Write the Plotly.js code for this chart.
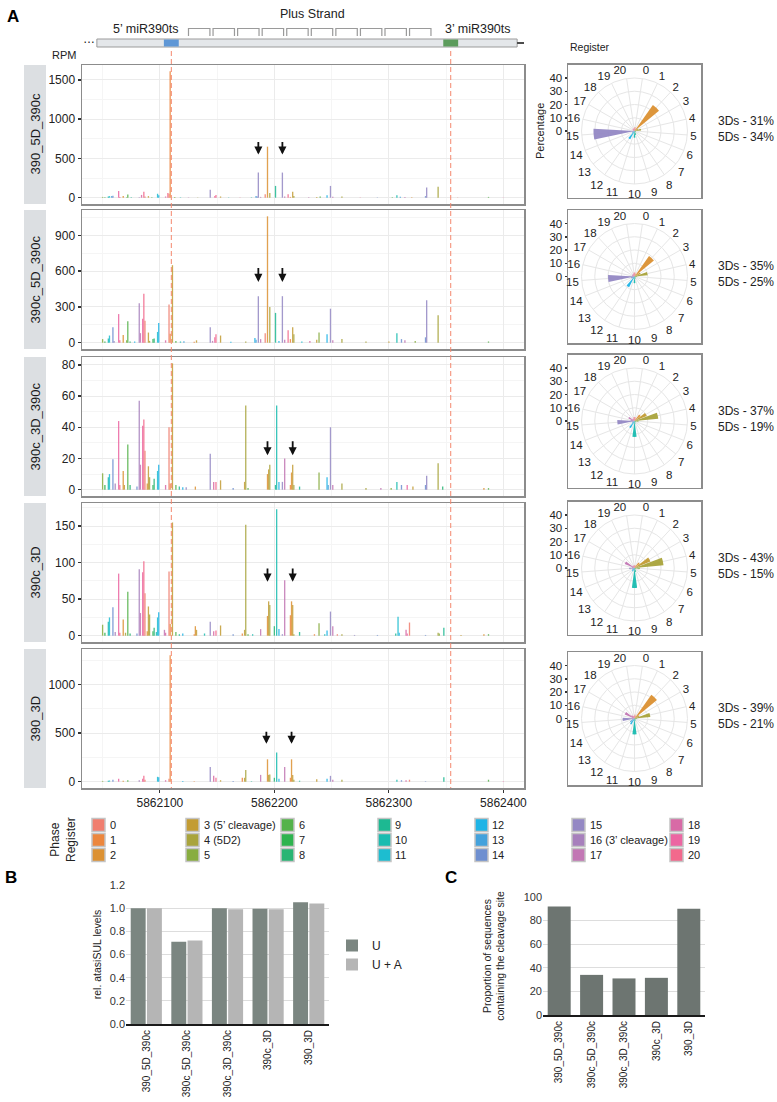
<!DOCTYPE html>
<html><head><meta charset="utf-8">
<script src="https://cdn.plot.ly/plotly-3.0.1.min.js"></script>
<style>html,body{margin:0;padding:0;background:#fff}#chart{width:777px;height:1102px}</style>
</head><body><div id="chart"></div>
<script>
// ---------------- DATA ----------------
const SAMPLES = ['390_5D_390c','390c_5D_390c','390c_3D_390c','390c_3D','390_3D'];
const REG_LABELS = ['0','1','2','3','4','5','6','7','8','9','10','11','12','13','14','15','16','17','18','19','20'];
const LEGEND_TEXT = ['0','1','2','3 (5\u2019 cleavage)','4 (5D2)','5','6','7','8','9','10','11','12','13','14','15','16 (3\u2019 cleavage)','17','18','19','20'];
const TS5 = 5862110, TS3 = 5862354;      // miR390 target sites
const PHASE0 = 5862108;                   // first nt of phase register 0
const GENE_START = 5862045, GENE_END = 5862412;

const POS_1 = [5862050,5862052,5862055,5862056,5862058,5862059,5862064,5862065,5862068,5862071,
5862072,5862075,5862082,5862084,5862086,5862087,5862090,5862093,5862098,5862099,
5862105,5862107,5862108,5862109,5862113,5862118,5862125,5862133,5862144,5862148,
5862149,5862153,5862160,5862170,5862180,5862184,5862185,5862186,5862188,5862192,
5862194,5862196,5862201,5862207,5862209,5862212,5862214,5862216,5862217,5862230,
5862237,5862240,5862246,5862249,5862251,5862259,5862275,5862290,5862303,5862307,
5862310,5862314,5862320,5862332,5862333,5862343,5862360,5862387,5862400];
const RPM_1 = [10,4,15,20,22,25,85,8,20,6,
40,5,6,35,75,15,20,6,50,30,
15,60,50,1610,8,5,4,3,100,20,
35,15,4,3,5,20,15,320,10,45,
650,60,150,320,15,45,10,75,20,5,
10,15,30,150,12,15,3,4,5,30,
12,8,5,20,130,140,3,10,3];

const POS_2 = [5862050,5862052,5862055,5862056,5862059,5862060,5862064,5862065,5862068,5862071,
5862072,5862074,5862078,5862082,5862083,5862085,5862086,5862087,5862090,5862091,
5862094,5862095,5862098,5862099,5862105,5862108,5862109,5862111,5862114,5862118,
5862121,5862130,5862132,5862144,5862146,5862148,5862149,5862153,5862162,5862175,
5862183,5862184,5862186,5862188,5862192,5862194,5862196,5862201,5862204,5862207,
5862209,5862212,5862214,5862216,5862217,5862224,5862231,5862237,5862239,5862246,
5862249,5862251,5862259,5862280,5862300,5862307,5862311,5862314,5862323,5862332,
5862333,5862343,5862387];
const RPM_2 = [30,10,35,60,130,15,240,20,65,20,
180,10,10,330,80,200,410,185,85,15,
30,35,90,165,20,320,75,650,15,10,
12,8,20,130,15,45,70,60,8,10,
40,25,390,30,80,1060,300,250,15,390,
25,105,30,130,70,10,15,25,85,70,
285,20,30,10,10,80,30,20,15,45,
355,230,10];

const POS_3 = [5862050,5862052,5862055,5862056,5862059,5862061,5862064,5862065,5862068,5862069,
5862072,5862074,5862080,5862082,5862083,5862085,5862086,5862087,5862089,5862090,
5862091,5862094,5862095,5862098,5862099,5862105,5862108,5862109,5862111,5862114,
5862117,5862120,5862123,5862131,5862144,5862147,5862149,5862153,5862164,5862174,
5862175,5862177,5862194,5862195,5862196,5862201,5862202,5862204,5862207,5862209,
5862214,5862215,5862216,5862217,5862222,5862239,5862246,5862247,5862249,5862251,
5862259,5862280,5862293,5862302,5862307,5862311,5862316,5862321,5862332,5862333,
5862343,5862347,5862383,5862387];
const RPM_3 = [10.5,3,8,10,19.5,4,44,3,12,3,
29,3,2,57,16,41,45,25,4,15,
8,3,7,12,16,3,40,4,81,3,
2,1.5,1.5,2,23,5,5,6,1,5,
54,1,10,13,16,3,54,5,5,20,
3,11,16,3,2,11,8,3,40,3,
4,1,1,1,5,3,3,2,3,9,
17,2,1,1];

const POS_4 = [5862050,5862052,5862055,5862056,5862059,5862061,5862064,5862065,5862068,5862070,
5862072,5862074,5862080,5862082,5862083,5862085,5862086,5862087,5862089,5862090,
5862091,5862094,5862095,5862097,5862098,5862099,5862104,5862105,5862108,5862109,
5862111,5862114,5862117,5862120,5862130,5862131,5862132,5862139,5862144,5862147,
5862149,5862153,5862164,5862172,5862174,5862175,5862177,5862181,5862188,5862194,
5862195,5862196,5862200,5862202,5862204,5862207,5862209,5862214,5862215,5862216,
5862217,5862222,5862235,5862239,5862244,5862246,5862249,5862251,5862255,5862259,
5862270,5862290,5862306,5862308,5862309,5862315,5862316,5862318,5862332,5862343,
5862344,5862348,5862363,5862383,5862387];
const RPM_4 = [15,4,19,25,39,5,85,4,22,4,
60,3,3,91,31,87,102,58,6,40,
29,6,11,5,25,32,8,4,88,16,
155,5,2,3,2,13,8,3,19,6,
7,14,2,3,8,152,2,2,9,27,
47,42,13,173,9,2,76,28,47,42,
2,5,2,17,2,7,33,13,2,2,
1,1,3,26,4,8,3,18,1,4,
3,11,1,2,2];

const POS_5 = [5862050,5862055,5862056,5862059,5862064,5862068,5862072,5862082,5862085,5862086,
5862087,5862098,5862099,5862105,5862108,5862109,5862120,5862130,5862144,5862147,
5862149,5862153,5862164,5862172,5862174,5862175,5862180,5862188,5862194,5862195,
5862196,5862200,5862202,5862204,5862209,5862214,5862215,5862216,5862217,5862222,
5862237,5862246,5862249,5862251,5862259,5862307,5862311,5862315,5862318,5862332,
5862348,5862387,5862400];
const RPM_5 = [8,10,12,20,30,10,15,15,30,60,
20,50,45,15,30,1300,8,5,150,60,
40,15,6,40,40,120,5,70,230,70,
75,40,300,30,150,40,230,70,20,10,
25,30,60,20,20,20,15,15,20,5,
45,20,5];

// arrows marking cleavage products
const ARROW_X = [[5862186,5862207],[5862186,5862207],[5862194,5862216],[5862194,5862216],[5862193,5862215]];
const ARROW_TIP = [550, 510, 22, 74, 390];
const ARROW_TAIL = [730, 640, 32, 94, 530];

// register percentages (polar plots)
const PCT_1 = [3,2,24,3,5,1,1,1,1,3,5,2,7,2,2,31,1,1,2,2,2];
const PCT_2 = [3,2,19,5,10,2,1,1,1,2,5,2,9,2,3,20,2,2,2,2,3];
const PCT_3 = [3,2,6,10,18,3,1,1,1,2,12,2,6,2,2,13,3,5,2,2,3];
const PCT_4 = [2,2,5,13,22,4,1,1,1,3,15,2,3,2,2,4,2,8,2,2,2];
const PCT_5 = [3,2,22,4,12,2,1,1,1,2,12,2,5,4,2,9,2,8,3,2,2];
const PCT_3DS = ['31%','35%','37%','43%','39%'];
const PCT_5DS = ['34%','25%','19%','15%','21%'];

// panel B and C
const U_LEVELS  = [1.00, 0.71, 1.00, 0.995, 1.05];
const UA_LEVELS = [1.00, 0.72, 0.99, 0.99, 1.04];
const CLEAVAGE_PROP = [92, 34, 31, 31.5, 90];

// ---------------- STYLE / HELPERS ----------------
const W = 777, H = 1102;
const px = v => v / W, py = v => 1 - v / H;
const FONT = 'Liberation Sans, Arial, Helvetica, sans-serif';
const PAL = ['#F07E6F','#EC873E','#DC9132','#C39C34','#A9A43C','#88AD40','#55B34A','#2EB34F','#28B574','#1DB992',
             '#1ABCB0','#1DBDD0','#1EB4E6','#44A2DC','#6E8FD0','#9488C4','#A780BC','#C276B4','#D86AA6','#EC66A2','#F2698C'];
const regOf = p => (((p - PHASE0) % 21) + 21) % 21;

const ROWS = [
  {pos: POS_1, rpm: RPM_1, range: [-80.5, 1690.5], dtick: 500},
  {pos: POS_2, rpm: RPM_2, range: [-53, 1113], dtick: 300},
  {pos: POS_3, rpm: RPM_3, range: [-4.05, 85.05], dtick: 20},
  {pos: POS_4, rpm: RPM_4, range: [-8.65, 181.65], dtick: 50},
  {pos: POS_5, rpm: RPM_5, range: [-65, 1365], dtick: 500},
];
const PCTS = [PCT_1, PCT_2, PCT_3, PCT_4, PCT_5];
const ROW_TOP = [65, 210, 357, 503, 649], ROW_H = 139;
const POLAR_CY = [131, 276.5, 421, 568, 718.5];
const BAR_X0 = 82, BAR_X1 = 524;
const XRANGE = [5862032, 5862418];

const data = [];
const shapes = [];
const ann = [];
function txt(x, y, text, size, extra) {
  return Object.assign({xref: 'paper', yref: 'paper', x: px(x), y: py(y), text: text, showarrow: false,
    xanchor: 'center', yanchor: 'middle', font: {size: size, color: '#222'}}, extra || {});
}
const layout = {
  width: W, height: H, margin: {l: 0, r: 0, t: 0, b: 0},
  paper_bgcolor: '#ffffff', plot_bgcolor: 'rgba(0,0,0,0)',
  font: {family: FONT, color: '#222'},
  barmode: 'group', bargap: 0.2, bargroupgap: 0.08,
  showlegend: true,
  legend: {x: px(332), y: py(931), xanchor: 'left', yanchor: 'top', font: {size: 12, color: '#222'},
           bgcolor: 'rgba(0,0,0,0)', itemwidth: 30, tracegroupgap: 0}
};

// ---------------- PANEL A: bar rows ----------------
ROWS.forEach((row, i) => {
  const k = i === 0 ? '' : String(i + 1);
  const top = ROW_TOP[i], bot = top + ROW_H;
  data.push({
    type: 'bar', x: row.pos, y: row.rpm, width: 1.15,
    marker: {color: row.pos.map(p => PAL[regOf(p)]), line: {width: 0}},
    opacity: 0.85, xaxis: 'x' + k, yaxis: 'y' + k, showlegend: false, hoverinfo: 'skip'
  });
  layout['xaxis' + k] = {
    domain: [px(BAR_X0), px(BAR_X1)], anchor: 'y' + k, range: XRANGE,
    tick0: 5862000, dtick: 100, tickformat: 'd',
    showticklabels: i === 4, ticks: i === 4 ? 'outside' : '', ticklen: 3, tickcolor: '#333',
    tickfont: {size: 12, color: '#222'},
    showgrid: true, gridcolor: '#EBEBEB', gridwidth: 1,
    minor: {dtick: 50, tick0: 5862000, showgrid: true, gridcolor: '#F5F5F5', gridwidth: 1, ticks: ''},
    showline: true, mirror: true, linecolor: '#8C8C8C', linewidth: 1.5, zeroline: false, fixedrange: true
  };
  layout['yaxis' + k] = {
    domain: [py(bot), py(top)], anchor: 'x' + k, range: row.range, tick0: 0, dtick: row.dtick,
    ticks: 'outside', ticklen: 3, tickwidth: 1.5, tickcolor: '#333',
    tickfont: {size: 12, color: '#222'},
    showgrid: true, gridcolor: '#EBEBEB', gridwidth: 1,
    minor: {dtick: row.dtick / 2, showgrid: true, gridcolor: '#F5F5F5', gridwidth: 1, ticks: ''},
    showline: true, mirror: true, linecolor: '#8C8C8C', linewidth: 1.5, zeroline: false, fixedrange: true
  };
  shapes.push({type: 'rect', xref: 'paper', yref: 'paper', x0: px(24), x1: px(46), y0: py(bot), y1: py(top),
               fillcolor: '#DCDFE2', line: {width: 0}, layer: 'below'});
  ann.push(txt(35, top + ROW_H / 2, SAMPLES[i], 13, {textangle: -90, font: {size: 13, color: '#1a1a1a'}}));
  ARROW_X[i].forEach(ax => {
    ann.push({xref: 'x' + k, yref: 'y' + k, axref: 'x' + k, ayref: 'y' + k, x: ax, y: ARROW_TIP[i], ax: ax, ay: ARROW_TAIL[i],
              text: '', showarrow: true, arrowhead: 2, arrowsize: 0.9, arrowwidth: 1.8, arrowcolor: '#111', standoff: 0, startstandoff: 0});
  });
});

// dashed target-site lines across all rows
[TS5, TS3].forEach(xv => {
  shapes.push({type: 'line', xref: 'x', yref: 'paper', x0: xv, x1: xv, y0: py(51), y1: py(ROW_TOP[4] + ROW_H),
               line: {color: '#F4876E', width: 1, dash: '5px,3px'}});
});

// ---------------- gene diagram ----------------
shapes.push({type: 'rect', xref: 'x', yref: 'paper', x0: GENE_START, x1: GENE_END, y0: py(47), y1: py(39),
             fillcolor: '#E4E7EA', line: {color: '#9B9B9B', width: 1}});
shapes.push({type: 'rect', xref: 'x', yref: 'paper', x0: TS5 - 6.5, x1: TS5 + 6.5, y0: py(46.5), y1: py(39.5),
             fillcolor: '#5F97D6', line: {width: 0}});
shapes.push({type: 'rect', xref: 'x', yref: 'paper', x0: TS3 - 6.5, x1: TS3 + 6.5, y0: py(46.5), y1: py(39.5),
             fillcolor: '#5C9C5C', line: {width: 0}});
shapes.push({type: 'line', xref: 'x', yref: 'paper', x0: GENE_END, x1: XRANGE[1], y0: py(43), y1: py(43),
             line: {color: '#111', width: 1.5}});
const BR_START = 5862125, BR_STEP = 21.45, BR_LEN = 18.7;
for (let b = 0; b < 10; b++) {
  const a = BR_START + b * BR_STEP, e = a + BR_LEN;
  shapes.push({type: 'path', xref: 'x', yref: 'paper',
    path: `M ${a},${py(36)} L ${a},${py(28.5)} L ${e},${py(28.5)} L ${e},${py(36)}`,
    line: {color: '#9A9A9A', width: 1.2}});
}
ann.push(txt(89, 39, '\u2026', 12, {font: {size: 12, color: '#111'}}));
ann.push(txt(312, 14, 'Plus Strand', 12.5));
ann.push(txt(146, 29, '5\u2019 miR390ts', 12.5));
ann.push(txt(478, 29, '3\u2019 miR390ts', 12.5));
ann.push(txt(64, 55, 'RPM', 11));
ann.push(txt(5, 5, '<b>A</b>', 17, {xanchor: 'left', yanchor: 'top', font: {size: 17, color: '#000'}}));

// ---------------- polar plots ----------------
PCTS.forEach((pct, i) => {
  const pk = i === 0 ? 'polar' : 'polar' + (i + 1);
  const cy = POLAR_CY[i], cx = 634.5, R = 53;
  data.push({type: 'barpolar', r: pct, theta: REG_LABELS, subplot: pk,
             marker: {color: PAL, line: {width: 0}}, opacity: 0.95, showlegend: false, hoverinfo: 'skip'});
  layout[pk] = {
    domain: {x: [px(cx - R), px(cx + R)], y: [py(cy + R), py(cy - R)]},
    bgcolor: 'rgba(0,0,0,0)', bargap: 0.12,
    radialaxis: {range: [0, 40], tickvals: [10, 20, 30, 40], showticklabels: false, ticks: '', showline: false,
                 gridcolor: '#E6E6E6', gridwidth: 1},
    angularaxis: {type: 'category', categoryorder: 'array', categoryarray: REG_LABELS,
                  direction: 'clockwise', rotation: 90 - 180 / 21, ticks: '',
                  showline: true, linecolor: '#E6E6E6', gridcolor: '#E6E6E6', gridwidth: 1,
                  tickfont: {size: 11.5, color: '#222'}}
  };
  const n = 8 + i, xk = 'x' + n, yk = 'y' + n;
  data.push({type: 'scatter', x: [0.5], y: [0], mode: 'markers', marker: {opacity: 0, size: 1},
             xaxis: xk, yaxis: yk, showlegend: false, hoverinfo: 'skip'});
  layout['xaxis' + n] = {domain: [px(568), px(701)], anchor: yk, range: [0, 1], showticklabels: false,
    showgrid: false, zeroline: false, ticks: '', showline: true, mirror: true, linecolor: '#8C8C8C', linewidth: 1.5, fixedrange: true};
  const half = 66.5 * 40 / R;
  layout['yaxis' + n] = {domain: [py(cy + 66.5), py(cy - 66.5)], anchor: xk, range: [-half, half],
    tickvals: [0, 10, 20, 30, 40], ticks: 'outside', ticklen: 2, tickwidth: 1.5, tickcolor: '#333',
    tickfont: {size: 11.5, color: '#222'}, showgrid: false, zeroline: false,
    showline: true, mirror: true, linecolor: '#8C8C8C', linewidth: 1.5, fixedrange: true};
  ann.push(txt(716, cy - 2.5, '3Ds - ' + PCT_3DS[i] + '<br>5Ds - ' + PCT_5DS[i], 12, {xanchor: 'left', align: 'left'}));
});
ann.push(txt(568, 47, 'Register', 10.5, {xanchor: 'left'}));
ann.push(txt(540, 131, 'Percentage', 11, {textangle: -90}));

// ---------------- phase register legend ----------------
const KEY_X = [92, 186, 281, 378, 475, 572, 670], KEY_Y = [825, 840, 855];
REG_LABELS.forEach((lab, r) => {
  const c = Math.floor(r / 3), rr = r % 3;
  const x0 = KEY_X[c], yc = KEY_Y[rr];
  shapes.push({type: 'rect', xref: 'paper', yref: 'paper', x0: px(x0), x1: px(x0 + 13), y0: py(yc + 6.5), y1: py(yc - 6.5),
               fillcolor: PAL[r], line: {color: '#C4C4C4', width: 1.5}});
  ann.push(txt(x0 + 15.5, yc, LEGEND_TEXT[r], 11, {xanchor: 'left', font: {size: 11, color: '#222'}}));
});
ann.push(txt(63, 840, 'Phase<br>Register', 12, {textangle: -90}));

// ---------------- PANEL B ----------------
data.push({type: 'bar', name: 'U', x: SAMPLES, y: U_LEVELS, marker: {color: '#7B8681', line: {width: 0}}, xaxis: 'x6', yaxis: 'y6', hoverinfo: 'skip'});
data.push({type: 'bar', name: 'U + A', x: SAMPLES, y: UA_LEVELS, marker: {color: '#B5B5B5', line: {width: 0}}, xaxis: 'x6', yaxis: 'y6', hoverinfo: 'skip'});
layout.xaxis6 = {domain: [px(126), px(329)], anchor: 'y6', type: 'category', showline: true, linecolor: '#1a1a1a', linewidth: 2,
  ticks: '', tickangle: -90, tickfont: {size: 10, color: '#222'}, showgrid: false, zeroline: false, fixedrange: true};
layout.yaxis6 = {domain: [py(1024), py(885)], anchor: 'x6', range: [0, 1.2], tick0: 0, dtick: 0.2, tickformat: '.1f',
  showgrid: true, gridcolor: '#DDDDDD', zeroline: false, showline: false, ticks: '',
  tickfont: {size: 11, color: '#333'}, title: {text: 'rel. atasiSUL levels', font: {size: 10.5, color: '#222'}, standoff: 6}, fixedrange: true};
ann.push(txt(3, 866, '<b>B</b>', 17, {xanchor: 'left', yanchor: 'top', font: {size: 17, color: '#000'}}));

// ---------------- PANEL C ----------------
data.push({type: 'bar', x: SAMPLES, y: CLEAVAGE_PROP, width: 0.71, marker: {color: '#6D7571', line: {width: 0}}, xaxis: 'x7', yaxis: 'y7', showlegend: false, hoverinfo: 'skip'});
layout.xaxis7 = {domain: [px(543), px(705)], anchor: 'y7', type: 'category', showline: true, linecolor: '#1a1a1a', linewidth: 2,
  ticks: '', tickangle: -90, tickfont: {size: 10, color: '#222'}, showgrid: false, zeroline: false, fixedrange: true};
layout.yaxis7 = {domain: [py(1015), py(897)], anchor: 'x7', range: [0, 100], tick0: 0, dtick: 20,
  showgrid: true, gridcolor: '#DDDDDD', zeroline: false, showline: false, ticks: '',
  tickfont: {size: 11, color: '#333'}, title: {text: 'Proportion of sequences<br>containing the cleavage site', font: {size: 10.5, color: '#222'}, standoff: 16}, fixedrange: true};
ann.push(txt(443, 866, '<b>C</b>', 17, {xanchor: 'left', yanchor: 'top', font: {size: 17, color: '#000'}}));

layout.shapes = shapes;
layout.annotations = ann;
Plotly.newPlot('chart', data, layout, {displayModeBar: false, staticPlot: true});
</script>
</body></html>
